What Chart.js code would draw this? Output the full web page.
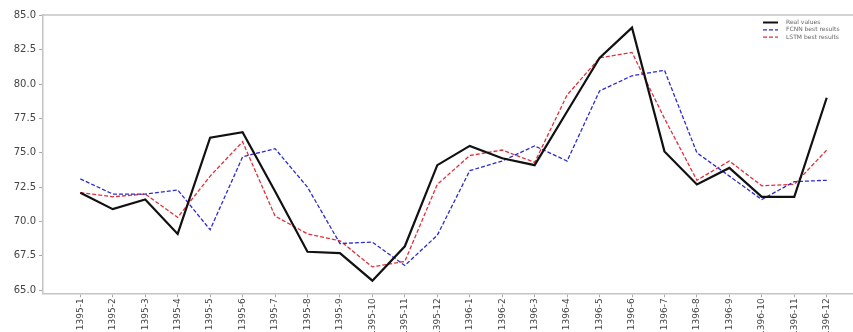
<!DOCTYPE html>
<html>
<head>
<meta charset="utf-8">
<script src="https://cdn.jsdelivr.net/npm/chart.js@4.4.1/dist/chart.umd.min.js"></script>
<style>
  html, body { margin: 0; padding: 0; background: #fff; overflow: hidden; }
  #wrap { position: relative; width: 853px; height: 332px; }
</style>
</head>
<body>
<div id="wrap"><canvas id="c"></canvas></div>
<script>
// Monthly periods (Solar Hijri calendar)
const months = [
  '1395-1', '1395-2', '1395-3', '1395-4', '1395-5', '1395-6',
  '1395-7', '1395-8', '1395-9', '1395-10', '1395-11', '1395-12',
  '1396-1', '1396-2', '1396-3', '1396-4', '1396-5', '1396-6',
  '1396-7', '1396-8', '1396-9', '1396-10', '1396-11', '1396-12'
];

const realValues = [
  72.1, 70.9, 71.6, 69.1, 76.1, 76.5, 72.2, 67.8, 67.7, 65.7, 68.2, 74.1,
  75.5, 74.6, 74.1, 78.0, 81.9, 84.1, 75.1, 72.7, 73.9, 71.8, 71.8, 79.0
];

const fcnnResults = [
  73.1, 72.0, 72.0, 72.3, 69.4, 74.7, 75.3, 72.5, 68.4, 68.5, 66.8, 69.0,
  73.7, 74.4, 75.5, 74.4, 79.5, 80.6, 81.0, 75.0, 73.3, 71.6, 72.9, 73.0
];

const lstmResults = [
  72.1, 71.8, 72.0, 70.3, 73.3, 75.8, 70.4, 69.1, 68.6, 66.7, 67.1, 72.7,
  74.8, 75.2, 74.3, 79.2, 81.9, 82.3, 77.5, 73.0, 74.4, 72.6, 72.7, 75.2
];

const yTicks = [65.0, 67.5, 70.0, 72.5, 75.0, 77.5, 80.0, 82.5, 85.0];

const seriesNames = ['Real values', 'FCNN best results', 'LSTM best results'];
const seriesColors = ['#111111', '#2b2bd0', '#e0303a'];

const toPoints = arr => arr.map((v, i) => ({ x: i, y: v }));

// Top frame line of the plot area
const topSpine = {
  id: 'topSpine',
  afterDraw(chart) {
    const { ctx, chartArea } = chart;
    ctx.save();
    ctx.strokeStyle = '#c4c4c4';
    ctx.lineWidth = 1.5;
    ctx.beginPath();
    ctx.moveTo(chartArea.left, chartArea.top);
    ctx.lineTo(chart.width, chartArea.top);
    ctx.stroke();
    ctx.restore();
  }
};

// Small legend in the upper-right corner of the plot
const cornerLegend = {
  id: 'cornerLegend',
  afterDraw(chart) {
    const { ctx, chartArea } = chart;
    const x0 = chartArea.left + 720;
    const y0 = chartArea.top + 7.5;
    ctx.save();
    ctx.font = '6px "DejaVu Sans"';
    ctx.textBaseline = 'middle';
    chart.data.datasets.forEach((ds, i) => {
      const y = y0 + i * 7.3;
      ctx.strokeStyle = ds.borderColor;
      ctx.lineWidth = i === 0 ? 2 : 1.2;
      ctx.setLineDash(ds.borderDash || []);
      ctx.beginPath();
      ctx.moveTo(x0, y);
      ctx.lineTo(x0 + 15, y);
      ctx.stroke();
      ctx.setLineDash([]);
      ctx.fillStyle = '#666';
      ctx.fillText(ds.label, x0 + 23, y);
    });
    ctx.restore();
  }
};

new Chart(document.getElementById('c'), {
  type: 'line',
  data: {
    datasets: [
      {
        label: seriesNames[0],
        data: toPoints(realValues),
        borderColor: seriesColors[0],
        borderWidth: 2.2
      },
      {
        label: seriesNames[1],
        data: toPoints(fcnnResults),
        borderColor: seriesColors[1],
        borderWidth: 1.3,
        borderDash: [4, 2]
      },
      {
        label: seriesNames[2],
        data: toPoints(lstmResults),
        borderColor: seriesColors[2],
        borderWidth: 1.3,
        borderDash: [4, 2]
      }
    ]
  },
  options: {
    responsive: true,
    maintainAspectRatio: false,
    animation: false,
    layout: { padding: { top: 15, right: 0, bottom: 0, left: 0 } },
    elements: {
      point: { radius: 0 },
      line: { tension: 0, fill: false }
    },
    plugins: {
      legend: { display: false },
      tooltip: { enabled: false }
    },
    scales: {
      x: {
        type: 'linear',
        min: -1.15,
        max: 23.81,
        afterBuildTicks: s => { s.ticks = months.map((_, i) => ({ value: i })); },
        afterFit: s => { s.height = 38.7; },
        ticks: {
          autoSkip: false,
          minRotation: 90,
          maxRotation: 90,
          padding: 1,
          color: '#444',
          font: { family: 'DejaVu Sans', size: 9 },
          callback: v => months[v]
        },
        grid: { drawOnChartArea: false, drawTicks: true, tickLength: 4, color: '#aaa' },
        border: { display: true, color: '#c4c4c4', width: 1.5 }
      },
      y: {
        min: 64.78,
        max: 85.02,
        afterBuildTicks: s => { s.ticks = yTicks.map(v => ({ value: v })); },
        afterFit: s => { s.width = 43; },
        ticks: {
          padding: 3,
          color: '#444',
          font: { family: 'DejaVu Sans', size: 10 },
          callback: v => Number(v).toFixed(1)
        },
        grid: { drawOnChartArea: false, drawTicks: true, tickLength: 4, color: '#aaa' },
        border: { display: true, color: '#c4c4c4', width: 1.5 }
      }
    }
  },
  plugins: [topSpine, cornerLegend]
});
</script>
</body>
</html>
